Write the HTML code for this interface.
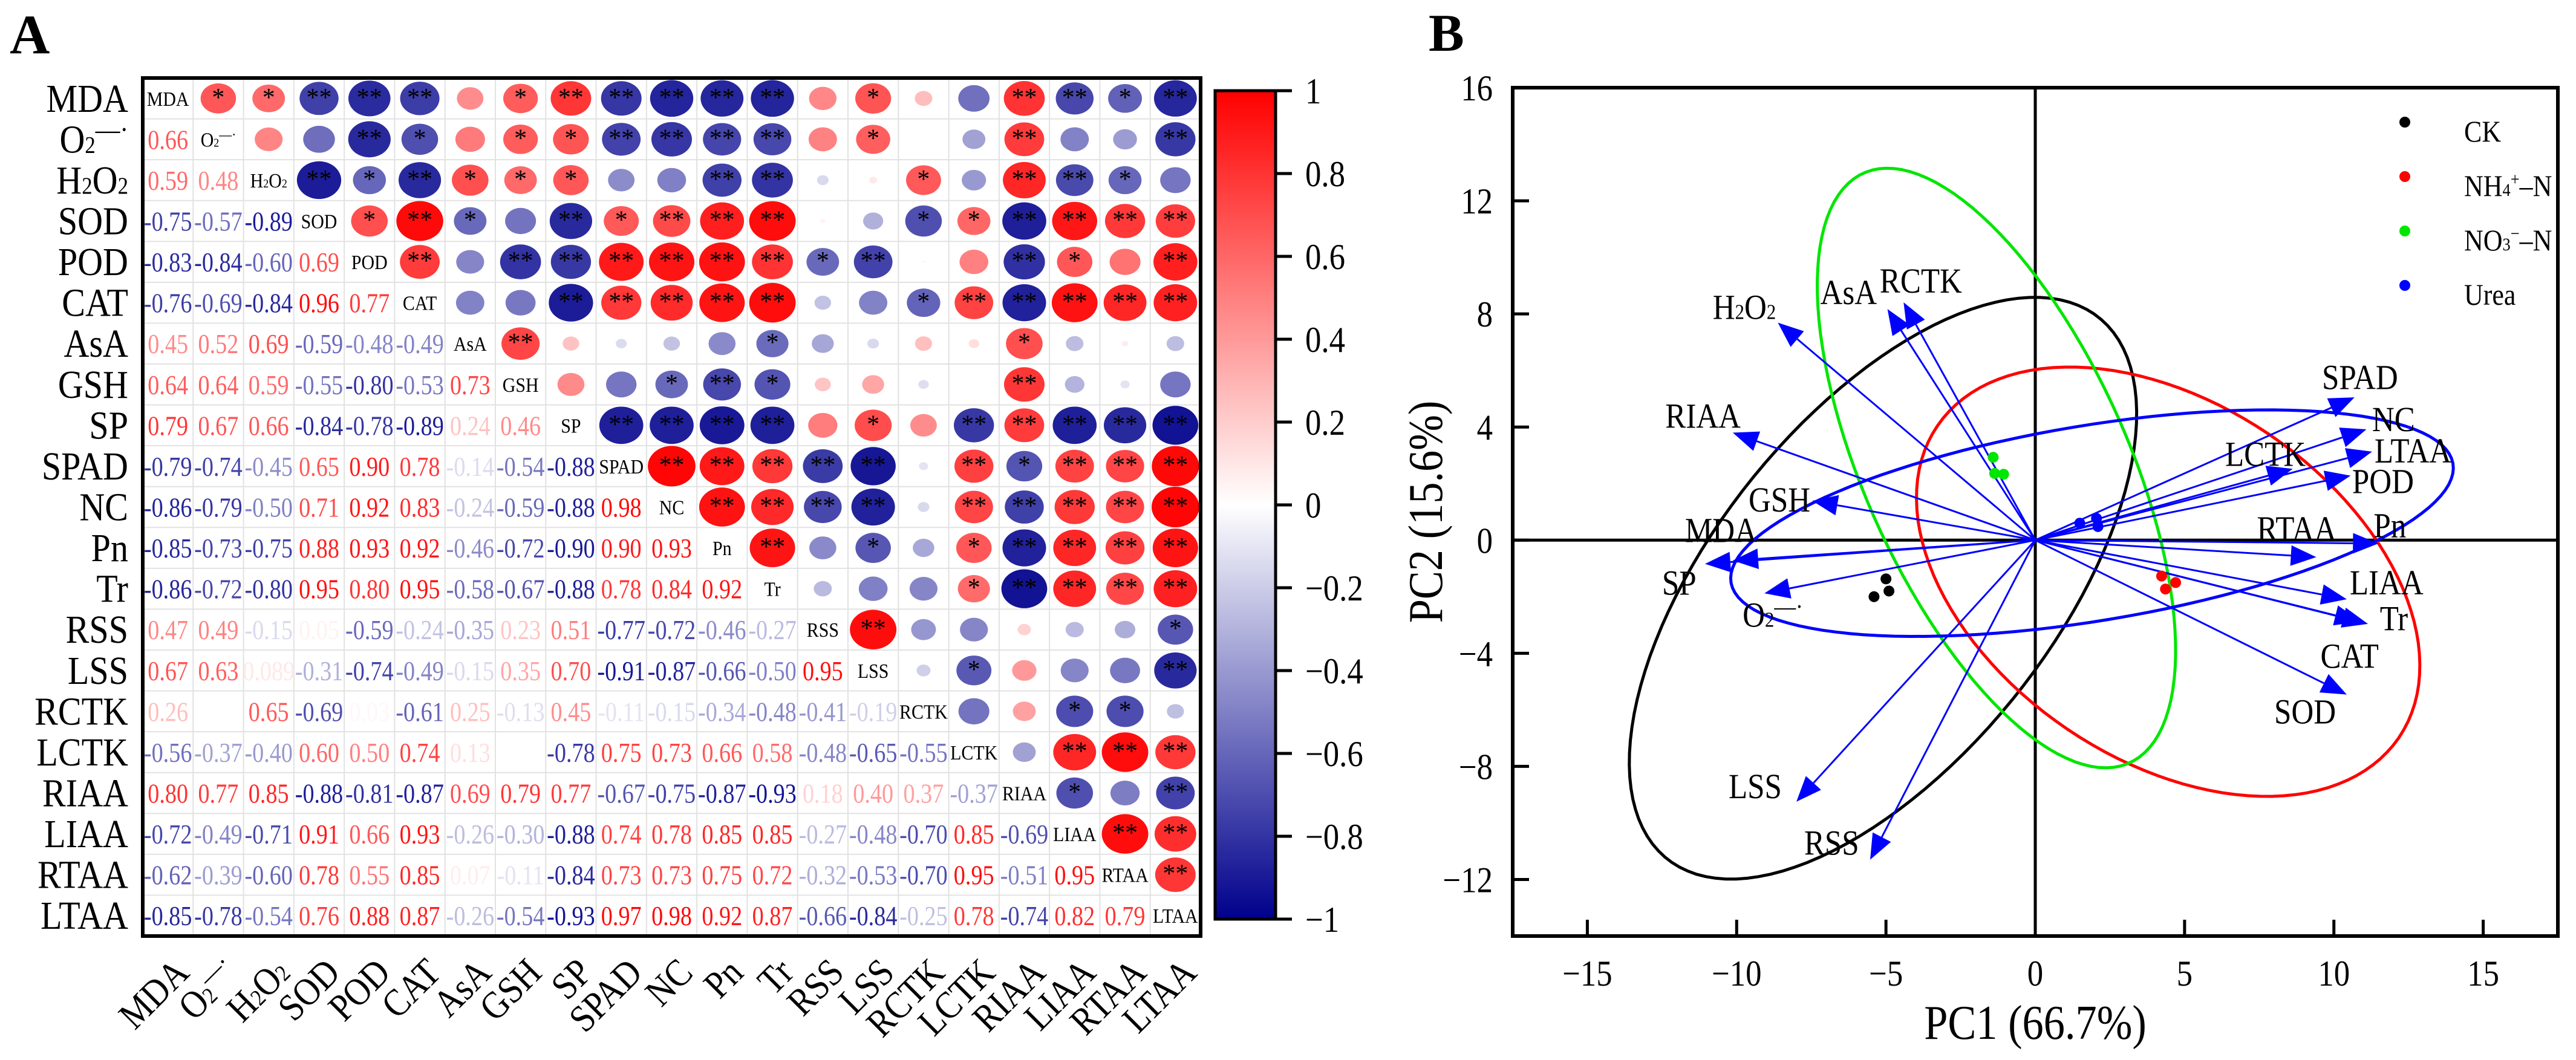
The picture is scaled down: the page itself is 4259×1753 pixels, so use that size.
<!DOCTYPE html>
<html><head><meta charset="utf-8">
<style>
html,body{margin:0;padding:0;background:#fff;}
svg{display:block;font-family:"Liberation Serif",serif;}
</style></head>
<body>
<svg id="fig" width="4259" height="1753" viewBox="0 0 4259 1753" xmlns="http://www.w3.org/2000/svg">
<g id="panelA"></g>
<g id="panelB"></g>
</svg>
<script>
// ---------- Panel A data ----------
const varNames = ["MDA","O2","H2O2","SOD","POD","CAT","AsA","GSH","SP","SPAD","NC","Pn","Tr","RSS","LSS","RCTK","LCTK","RIAA","LIAA","RTAA","LTAA"];
const corrRows = [
 [],
 [0.66],
 [0.59,0.48],
 [-0.75,-0.57,-0.89],
 [-0.83,-0.84,-0.60,0.69],
 [-0.76,-0.69,-0.84,0.96,0.77],
 [0.45,0.52,0.69,-0.59,-0.48,-0.49],
 [0.64,0.64,0.59,-0.55,-0.80,-0.53,0.73],
 [0.79,0.67,0.66,-0.84,-0.78,-0.89,0.24,0.46],
 [-0.79,-0.74,-0.45,0.65,0.90,0.78,-0.14,-0.54,-0.88],
 [-0.86,-0.79,-0.50,0.71,0.92,0.83,-0.24,-0.59,-0.88,0.98],
 [-0.85,-0.73,-0.75,0.88,0.93,0.92,-0.46,-0.72,-0.90,0.90,0.93],
 [-0.86,-0.72,-0.80,0.95,0.80,0.95,-0.58,-0.67,-0.88,0.78,0.84,0.92],
 [0.47,0.49,-0.15,0.05,-0.59,-0.24,-0.35,0.23,0.51,-0.77,-0.72,-0.46,-0.27],
 [0.67,0.63,0.089,-0.31,-0.74,-0.49,-0.15,0.35,0.70,-0.91,-0.87,-0.66,-0.50,0.95],
 [0.26,0.00,0.65,-0.69,0.03,-0.61,0.25,-0.13,0.45,-0.11,-0.15,-0.34,-0.48,-0.41,-0.19],
 [-0.56,-0.37,-0.40,0.60,0.50,0.74,0.13,0.00,-0.78,0.75,0.73,0.66,0.58,-0.48,-0.65,-0.55],
 [0.80,0.77,0.85,-0.88,-0.81,-0.87,0.69,0.79,0.77,-0.67,-0.75,-0.87,-0.93,0.18,0.40,0.37,-0.37],
 [-0.72,-0.49,-0.71,0.91,0.66,0.93,-0.26,-0.30,-0.88,0.74,0.78,0.85,0.85,-0.27,-0.48,-0.70,0.85,-0.69],
 [-0.62,-0.39,-0.60,0.78,0.55,0.85,0.07,-0.11,-0.84,0.73,0.73,0.75,0.72,-0.32,-0.53,-0.70,0.95,-0.51,0.95],
 [-0.85,-0.78,-0.54,0.76,0.88,0.87,-0.26,-0.54,-0.93,0.97,0.98,0.92,0.87,-0.66,-0.84,-0.25,0.78,-0.74,0.82,0.79]
];
const colorbarTicks = [1,0.8,0.6,0.4,0.2,0,-0.2,-0.4,-0.6,-0.8,-1];

// ---------- Panel B data ----------
const groupNames = ["CK","NH4","NO3","Urea"];
const groupColors = ["#000000","#ff0000","#00e600","#0000ff"];
const scoreX = [[-5.4,-5.0,-4.9],[4.23,4.7,4.36],[-1.41,-1.36,-1.06],[1.49,2.05,2.1]];
const scoreY = [[-2.0,-1.37,-1.8],[-1.27,-1.5,-1.73],[2.93,2.36,2.33],[0.6,0.77,0.48]];
const ellCx = [-5.1,4.45,-1.3,1.9];
const ellCy = [-1.7,-1.47,2.55,0.6];
const ellA = [12.0,9.5,11.34,12.27];
const ellB = [5.83,6.2,4.45,3.45];
const ellAngle = [53.9,-37.5,-67.3,9.95];
const loadNames = ["H2O2","AsA","RCTK","RIAA","GSH","MDA","SP","O2","LSS","RSS","SPAD","NC","LTAA","LCTK","POD","RTAA","Pn","LIAA","Tr","CAT","SOD"];
const loadX = [-8.62,-4.95,-4.41,-10.13,-7.47,-10.13,-11.06,-9.07,-8.0,-5.53,10.69,11.09,11.28,8.62,10.56,9.41,11.49,10.43,11.14,10.88,10.43];
const loadY = [7.69,8.17,8.41,3.80,1.39,-0.72,-0.84,-1.88,-9.25,-11.3,5.05,3.92,3.13,2.52,2.28,-0.6,-0.12,-2.09,-2.96,-2.88,-5.46];
const labelX = [-10.8,-7.2,-5.21,-12.39,-9.6,-11.73,-12.5,-9.8,-10.27,-7.74,9.6,11.28,11.36,6.36,10.61,7.42,11.33,10.53,11.54,9.55,8.0];
const labelY = [8.25,8.77,9.18,4.4,1.44,0.36,-1.5,-2.64,-8.7,-10.7,5.77,4.28,3.17,3.05,2.09,0.41,0.53,-1.49,-2.76,-4.09,-6.06];
const xTicks = [-15,-10,-5,0,5,10,15];
const yTicks = [16,12,8,4,0,-4,-8,-12];

const NS="http://www.w3.org/2000/svg";
const SX=0.88;
function mk(tag, attrs, parent){const e=document.createElementNS(NS,tag);for(const k in attrs)e.setAttribute(k,attrs[k]);if(parent)parent.appendChild(e);return e;}
function ctext(parent,x,y,size,anchor,extra){
  const a=Object.assign({x:0,y:0,"font-size":size,"text-anchor":anchor||"start",transform:`translate(${x},${y}) scale(${SX},1)`},extra||{});
  return mk("text",a,parent);
}
function cmap(v){
  v=Math.max(-1,Math.min(1,v));
  if(v>=0){const g=Math.round(255*(1-v));return `rgb(255,${g},${g})`;}
  const t=-v;return `rgb(${Math.round(255*(1-t))},${Math.round(255*(1-t))},${Math.round(255-(255-140)*t)})`;
}
function fmtv(v){ if(Math.abs(v)<0.1 && Math.abs(v)>0) return String(v); return v.toFixed(2); }
function corr(i,j){ if(i===j) return 1; return i>j?corrRows[i][j]:corrRows[j][i]; }
function richLabel(t, name, size){
  if(name==="O2"){t.appendChild(document.createTextNode("O"));const s=mk("tspan",{"font-size":size*0.6},t);s.textContent="2";const s2=mk("tspan",{"font-size":size*0.7,dy:-size*0.35},t);s2.textContent="\u2014\u00b7";}
  else if(name==="H2O2"){t.appendChild(document.createTextNode("H"));let s=mk("tspan",{"font-size":size*0.6},t);s.textContent="2";t.appendChild(document.createTextNode("O"));s=mk("tspan",{"font-size":size*0.6},t);s.textContent="2";}
  else t.textContent=name;
}

// ---------- Panel A ----------
(function(){
  const g=document.getElementById("panelA");
  const x0=236,y0=129,x1=1985,y1=1548,n=varNames.length;
  const cw=(x1-x0)/n, ch=(y1-y0)/n;
  const ta=mk("text",{x:16,y:88,"font-size":92,"font-weight":"bold"},g);ta.textContent="A";
  
  
  for(let k=1;k<n;k++){
    mk("line",{x1:x0+k*cw,y1:y0,x2:x0+k*cw,y2:y1,stroke:"#e2e2e2","stroke-width":2},g);
    mk("line",{x1:x0,y1:y0+k*ch,x2:x1,y2:y0+k*ch,stroke:"#e2e2e2","stroke-width":2},g);
  }
  for(let i=0;i<n;i++){
    const cy=y0+(i+0.5)*ch;
    const rl=ctext(g,212,cy+22,66,"end");
    richLabel(rl,varNames[i],66);
    
    
    for(let j=0;j<n;j++){
      const cx=x0+(j+0.5)*cw;
      if(i===j){
        const d=mk("text",{x:0,y:0,"text-anchor":"middle","font-size":34,transform:`translate(${cx},${cy+12}) scale(0.88,1)`},g);
        richLabel(d,varNames[i],34);
        
        
      } else if(j<i){
        const v=corr(i,j);
        const t=mk("text",{x:0,y:0,"text-anchor":"middle","font-size":46,fill:cmap(v),transform:`translate(${cx},${cy+16}) scale(0.83,1)`},g);
        t.textContent=fmtv(v);
        
        
      } else {
        const v=corr(i,j), a=Math.abs(v);
        const s=Math.pow(a,0.75);
        const e=mk("ellipse",{cx:cx,cy:cy,rx:40*s,ry:34*s,fill:cmap(v)},g);
        
        
        let star=a>=0.71?"**":(a>=0.58?"*":"");
        if(star){
          const st=mk("text",{x:cx,y:cy+12,"text-anchor":"middle","font-size":42,fill:"#000"},g);
          st.textContent=star;
          
          
        }
      }
    }
    const xl=mk("text",{x:0,y:0,"text-anchor":"end","font-size":64,transform:`translate(${x0+(i+0.5)*cw+38},${1612}) rotate(-45) scale(${SX},1)`},g);
    richLabel(xl,varNames[i],64);
    
    
  }
  const box=mk("rect",{x:x0,y:y0,width:x1-x0,height:y1-y0,fill:"none",stroke:"#000","stroke-width":6},g);
  
  
  const defs=mk("defs",{},g);
  const lg=mk("linearGradient",{id:"cbg",x1:0,y1:0,x2:0,y2:1},defs);
  for(let k=0;k<=20;k++){const v=1-k/10;mk("stop",{offset:(k/20),"stop-color":cmap(v)},lg);}
  const cbTop=150,cbBot=1520,cbL=2009,cbR=2109;
  const cb=mk("rect",{x:cbL,y:cbTop,width:cbR-cbL,height:cbBot-cbTop,fill:"url(#cbg)",stroke:"#000","stroke-width":5},g);
  
  
  colorbarTicks.forEach(v=>{
    const y=cbTop+(1-v)/2*(cbBot-cbTop);
    mk("line",{x1:cbR,y1:y,x2:cbR+27,y2:y,stroke:"#000","stroke-width":5},g);
    const t=ctext(g,2158,y+21,60,"start");
    t.textContent=(v<0?"\u2212":"")+Math.abs(v);
    
    
  });
})();

// ---------- Panel B ----------
(function(){
  const g=document.getElementById("panelB");
  const L=2501,R=4229,T=145,B=1548;
  const xmin=-17.5,xmax=17.5,ymin=-14,ymax=16;
  const X=v=>L+(v-xmin)/(xmax-xmin)*(R-L);
  const Y=v=>B-(v-ymin)/(ymax-ymin)*(B-T);
  const tb=mk("text",{x:2362,y:84,"font-size":88,"font-weight":"bold"},g);tb.textContent="B";
  
  
  mk("line",{x1:L,y1:Y(0),x2:R,y2:Y(0),stroke:"#000","stroke-width":5},g);
  mk("line",{x1:X(0),y1:T,x2:X(0),y2:B,stroke:"#000","stroke-width":5},g);
  for(let k=0;k<groupNames.length;k++){
    const th=ellAngle[k]*Math.PI/180;let d="";
    for(let s=0;s<=120;s++){
      const t=s/120*2*Math.PI;
      const px=ellCx[k]+ellA[k]*Math.cos(t)*Math.cos(th)-ellB[k]*Math.sin(t)*Math.sin(th);
      const py=ellCy[k]+ellA[k]*Math.cos(t)*Math.sin(th)+ellB[k]*Math.sin(t)*Math.cos(th);
      d+=(s?"L":"M")+X(px).toFixed(1)+","+Y(py).toFixed(1);
    }
    const p=mk("path",{d:d+"Z",fill:"none",stroke:groupColors[k],"stroke-width":5},g);
    
    
  }
  for(let i=0;i<loadNames.length;i++){
    const x0=X(0),y0=Y(0),x1=X(loadX[i]),y1=Y(loadY[i]);
    const dx=x1-x0,dy=y1-y0,len=Math.hypot(dx,dy),ux=dx/len,uy=dy/len;
    const hl=42,hw=17;
    const bx=x1-ux*hl,by=y1-uy*hl;
    const ln=mk("line",{x1:x0,y1:y0,x2:bx,y2:by,stroke:"#0000ff","stroke-width":3},g);
    
    
    mk("polygon",{points:`${x1},${y1} ${bx-uy*hw},${by+ux*hw} ${bx+uy*hw},${by-ux*hw}`,fill:"#0000ff"},g);
    const t=ctext(g,X(labelX[i]),Y(labelY[i])+20,58,"start");
    richLabel(t,loadNames[i],58);
    
    
  }
  for(let k=0;k<groupNames.length;k++){
    for(let m=0;m<scoreX[k].length;m++){
      const c=mk("circle",{cx:X(scoreX[k][m]),cy:Y(scoreY[k][m]),r:9,fill:groupColors[k]},g);
      
      
    }
  }
  const fr=mk("rect",{x:L,y:T,width:R-L,height:B-T,fill:"none",stroke:"#000","stroke-width":6},g);
  
  
  xTicks.forEach(v=>{
    mk("line",{x1:X(v),y1:B,x2:X(v),y2:B-27,stroke:"#000","stroke-width":5},g);
    const t=ctext(g,X(v),1630,60,"middle");
    t.textContent=(v<0?"\u2212":"")+Math.abs(v);
    
    
  });
  yTicks.forEach(v=>{
    mk("line",{x1:L,y1:Y(v),x2:L+27,y2:Y(v),stroke:"#000","stroke-width":5},g);
    const t=ctext(g,2468,Y(v)+21,60,"end");
    t.textContent=(v<0?"\u2212":"")+Math.abs(v);
    
    
  });
  const xt=ctext(g,X(0),1718,80,"middle");xt.textContent="PC1 (66.7%)";
  
  
  const yt=mk("text",{x:0,y:0,"text-anchor":"middle","font-size":80,transform:`translate(2384,${Y(1)}) rotate(-90) scale(${SX},1)`},g);yt.textContent="PC2 (15.6%)";
  
  
  const legY=[202,292,382,472];
  for(let k=0;k<groupNames.length;k++){
    const c=mk("circle",{cx:3976,cy:legY[k],r:9,fill:groupColors[k]},g);
    
    
    const t=ctext(g,4074,legY[k]+32,50,"start");
    if(k===1){t.appendChild(document.createTextNode("NH"));let s=mk("tspan",{"font-size":30},t);s.textContent="4";s=mk("tspan",{"font-size":30,dy:-18},t);s.textContent="+";s=mk("tspan",{dy:18},t);s.textContent="\u2013N";}
    else if(k===2){t.appendChild(document.createTextNode("NO"));let s=mk("tspan",{"font-size":30},t);s.textContent="3";s=mk("tspan",{"font-size":30,dy:-18},t);s.textContent="\u2212";s=mk("tspan",{dy:18},t);s.textContent="\u2013N";}
    else t.textContent=groupNames[k];
    
    
  }
})();
</script>
</body></html>
